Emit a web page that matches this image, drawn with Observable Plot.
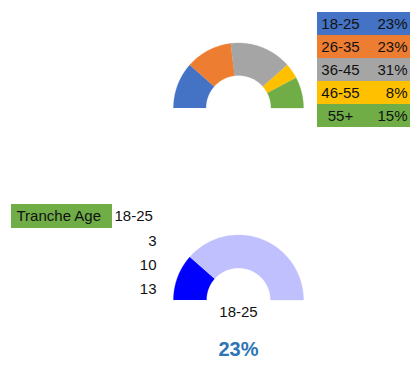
<!DOCTYPE html>
<html>
<head>
<meta charset="utf-8">
<script src="https://cdn.jsdelivr.net/npm/d3@7"></script>
<script src="https://cdn.jsdelivr.net/npm/@observablehq/plot@0.6"></script>
<style>
  html, body { margin: 0; padding: 0; background: #ffffff; }
  #chart { width: 417px; height: 392px; }
</style>
</head>
<body>
<div id="chart"></div>
<script>
// ---- data ----
const ageBands = ["18-25", "26-35", "36-45", "46-55", "55+"];
const bandCounts = [3, 3, 4, 1, 2];
const gaugeTitle = "Tranche Age";
const selectedBand = "18-25";
const gaugeKeys = ["selected", "others"];
const gaugeValues = [3, 10];
const gaugeTotal = 13;

// ---- styles ----
const bandColors = ["#4472C4", "#ED7D31", "#A5A5A5", "#FFC000", "#70AD47"];
const gaugeColors = ["#0000FF", "#C0C0FF"];
const FONT = "Liberation Sans";
const FS = 15;

const total = d3.sum(bandCounts);
const pct = v => Math.round(v / total * 100) + "%";

// half donut polygons computed from values (angle goes left -> top -> right)
function halfDonut(keys, values, cx, cy, rOuter, rInner) {
  const sum = d3.sum(values);
  const pts = [];
  let acc = 0;
  keys.forEach((k, i) => {
    const f0 = acc / sum, f1 = (acc + values[i]) / sum;
    acc += values[i];
    const n = 60;
    for (let j = 0; j <= n; j++) {
      const f = f0 + (f1 - f0) * j / n, t = Math.PI - f * Math.PI;
      pts.push({key: k, x: cx + rOuter * Math.cos(t), y: cy - rOuter * Math.sin(t)});
    }
    for (let j = n; j >= 0; j--) {
      const f = f0 + (f1 - f0) * j / n, t = Math.PI - f * Math.PI;
      pts.push({key: k, x: cx + rInner * Math.cos(t), y: cy - rInner * Math.sin(t)});
    }
  });
  return pts;
}

const topDonut = halfDonut(ageBands, bandCounts, 238, 107.5, 65, 32.5);
const bottomDonut = halfDonut(gaugeKeys, gaugeValues, 238, 299.5, 65, 32);

const tableRows = ageBands.map((b, i) => ({band: b, count: bandCounts[i], i}));
const rowTop = 12, rowH = 23;

const selIndex = ageBands.indexOf(selectedBand);
const selPct = pct(bandCounts[selIndex]);

const plot = Plot.plot({
  width: 417,
  height: 392,
  margin: 0,
  x: {domain: [0, 417], range: [0, 417], axis: null},
  y: {domain: [0, 392], range: [0, 392], axis: null},
  color: {domain: [...ageBands, ...gaugeKeys], range: [...bandColors, ...gaugeColors]},
  style: {fontFamily: FONT, fontSize: FS + "px", background: "#ffffff", color: "#111"},
  marks: [
    // top donut
    Plot.line(topDonut, {x: "x", y: "y", z: "key", fill: "key", stroke: "key", strokeWidth: 0.3, curve: "linear"}),
    // table legend
    Plot.rect(tableRows, {x1: 317, x2: 410, y1: d => rowTop + d.i * rowH, y2: d => rowTop + (d.i + 1) * rowH, fill: "band"}),
    Plot.text(tableRows, {x: 340, y: d => rowTop + d.i * rowH + rowH / 2, text: "band", fill: "#111", fontSize: FS}),
    Plot.text(tableRows, {x: 407, y: d => rowTop + d.i * rowH + rowH / 2, text: d => pct(d.count), textAnchor: "end", fill: "#111", fontSize: FS}),
    // bottom gauge
    Plot.rect([gaugeTitle], {x1: 11, x2: 112, y1: 204, y2: 228, fill: "#70AD47"}),
    Plot.text([gaugeTitle], {x: 16, y: 216, text: d => d, textAnchor: "start", fill: "#111", fontSize: FS}),
    Plot.text([selectedBand], {x: 114, y: 216, text: d => d, textAnchor: "start", fill: "#111", fontSize: FS}),
    Plot.text([gaugeValues[0], gaugeValues[1], gaugeTotal], {x: 156, y: (d, i) => 241 + i * 24, text: d => String(d), textAnchor: "end", fill: "#111", fontSize: FS}),
    Plot.line(bottomDonut, {x: "x", y: "y", z: "key", fill: "key", stroke: "key", strokeWidth: 0.3, curve: "linear"}),
    Plot.text([selectedBand], {x: 238, y: 312, text: d => d, fill: "#111", fontSize: FS}),
    Plot.text([selPct], {x: 238, y: 349, text: d => d, fill: "#2E75B6", fontSize: 20, fontWeight: "bold"})
  ]
});
document.getElementById("chart").appendChild(plot);
</script>
</body>
</html>
